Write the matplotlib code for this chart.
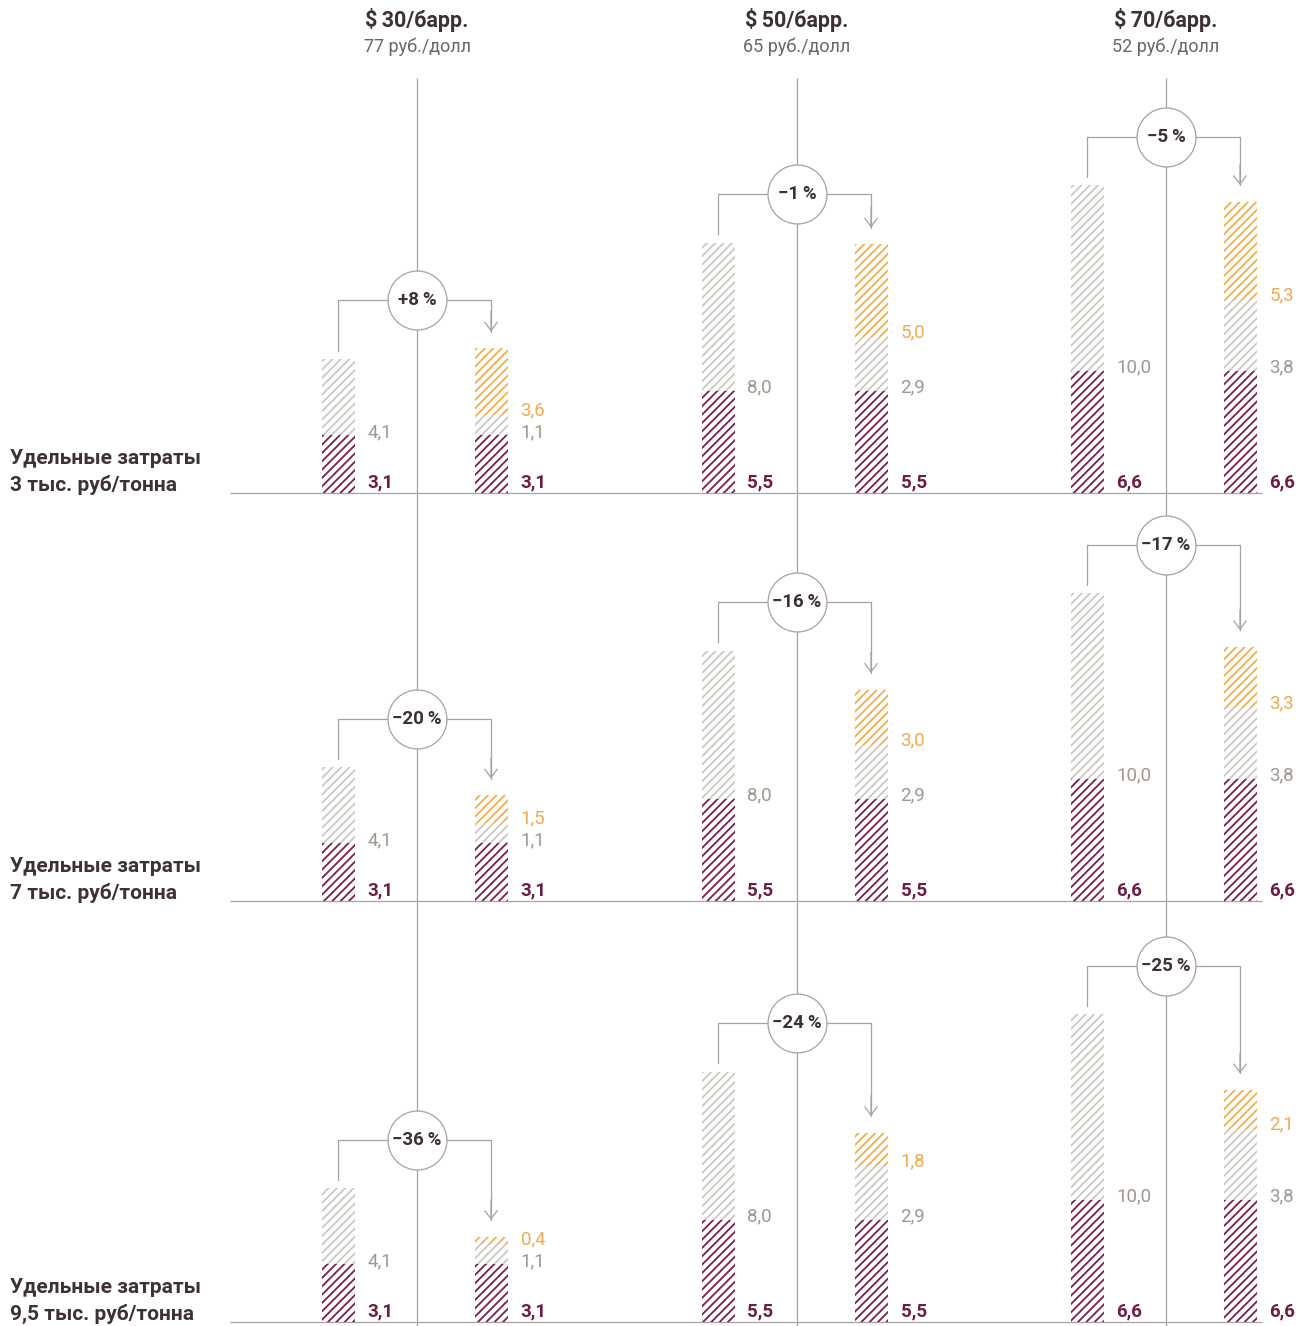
import matplotlib.pyplot as plt

# сценарии цены нефти и курса
prices = ['$\u200930/барр.', '$\u200950/барр.', '$\u200970/барр.']
rates = ['77 руб./долл', '65 руб./долл', '52 руб./долл']
row_titles = ['Удельные затраты', 'Удельные затраты', 'Удельные затраты']
row_costs = ['3 тыс. руб/тонна', '7 тыс. руб/тонна', '9,5 тыс. руб/тонна']

# нижний сегмент (одинаков для обоих столбиков и всех строк)
base = [3.1, 5.5, 6.6]
# серый сегмент: левый и правый столбики
left_grey = [4.1, 8.0, 10.0]
right_grey = [1.1, 2.9, 3.8]
# оранжевый сегмент правого столбика по строкам
orange = [[3.6, 5.0, 5.3],
          [1.5, 3.0, 3.3],
          [0.4, 1.8, 2.1]]
# изменение, %
changes = [[8, -1, -5],
           [-20, -16, -17],
           [-36, -24, -25]]

PURPLE = '#7a1f4d'
PURPLE_TXT = '#6d1d45'
GREY = '#cdc8c3'
GREY_TXT = '#a0978f'
ORANGE = '#efb04e'
ORANGE_TXT = '#eeab4f'
LINE = '#a9a1a1'
DARK = '#3d3131'
SUB = '#6e6464'

plt.rcParams['font.family'] = ['Roboto', 'DejaVu Sans']
plt.rcParams['hatch.linewidth'] = 1.3

W, H = 1309, 1326
U = 18.55  # пикселей на единицу


def ypx(p):
    # строка пикселя -> единицы оси y (только для раскладки)
    return (1322 - p) / U


col_x = [417, 797, 1166]
off_l, off_r = -79, 74
bar_w = 33
row_y = [ypx(493), ypx(901), ypx(1322)]
HATCH = '////'
VAL_FS = 13.5

fig = plt.figure(figsize=(W / 100, H / 100), dpi=100)
ax = fig.add_axes([0, 0, 1, 1])
ax.set_xlim(0, W)
ax.set_ylim(ypx(H), ypx(0))
ax.axis('off')

# центральные вертикали и базовые линии
ax.vlines(col_x, ypx(H), ypx(78), color=LINE, lw=0.9, zorder=1)
ax.hlines(row_y, 230, 1262, color=LINE, lw=0.9, zorder=1)

for j, cx in enumerate(col_x):
    ax.text(cx, ypx(20), prices[j], ha='center', va='center', fontsize=15.5,
            fontweight='bold', color=DARK)
    ax.text(cx, ypx(47), rates[j], ha='center', va='center', fontsize=13,
            color=SUB)

for i, y0 in enumerate(row_y):
    ax.text(10, y0 + 27 / U + 0.1, row_titles[i], ha='left', va='baseline',
            fontsize=15, fontweight='bold', color=DARK)
    ax.text(10, y0 + 0.1, row_costs[i], ha='left', va='baseline',
            fontsize=15, fontweight='bold', color=DARK)

    for j, cx in enumerate(col_x):
        xl, xr = cx + off_l, cx + off_r
        b, gl, gr, o = base[j], left_grey[j], right_grey[j], orange[i][j]

        # левый столбик
        ax.bar(xl, b, bottom=y0, width=bar_w, facecolor='none', edgecolor=PURPLE,
               lw=0, hatch=HATCH, zorder=2)
        ax.bar(xl, gl, bottom=y0 + b, width=bar_w, facecolor='none', edgecolor=GREY,
               lw=0, hatch=HATCH, zorder=2)
        # правый столбик
        ax.bar(xr, b, bottom=y0, width=bar_w, facecolor='none', edgecolor=PURPLE,
               lw=0, hatch=HATCH, zorder=2)
        ax.bar(xr, gr, bottom=y0 + b, width=bar_w, facecolor='none', edgecolor=GREY,
               lw=0, hatch=HATCH, zorder=2)
        ax.bar(xr, o, bottom=y0 + b + gr, width=bar_w, facecolor='none',
               edgecolor=ORANGE, lw=0, hatch=HATCH, zorder=2)

        # подписи
        tx = bar_w / 2 + 13
        fmt = lambda v: f'{v:.1f}'.replace('.', ',')
        for x in (xl, xr):
            ax.text(x + tx, y0 + 0.32, fmt(b), ha='left', va='baseline',
                    fontsize=VAL_FS, fontweight='bold', color=PURPLE_TXT)
        ax.text(xl + tx, y0 + b - 0.1, fmt(gl), ha='left', va='baseline',
                fontsize=VAL_FS, color=GREY_TXT)
        ax.text(xr + tx, y0 + b - 0.1, fmt(gr), ha='left', va='baseline',
                fontsize=VAL_FS, color=GREY_TXT)
        oy = max(y0 + b + gr, y0 + b - 0.1 + 1.2)
        ax.text(xr + tx, oy, fmt(o), ha='left', va='baseline',
                fontsize=VAL_FS, color=ORANGE_TXT)

        # скобка со стрелкой
        top_l = y0 + b + gl
        top_r = y0 + b + gr + o
        cy = max(top_l, top_r) + 2.6
        ax.plot([xl, xl, xr, xr], [top_l + 0.45, cy, cy, top_r + 0.9],
                color=LINE, lw=0.9, zorder=1)
        ax.annotate('', xy=(xr, top_r + 0.9), xytext=(xr, top_r + 2.0),
                    arrowprops=dict(arrowstyle='->,head_length=0.6,head_width=0.45',
                                    color=LINE, lw=0.9, shrinkA=0, shrinkB=0))
        ax.scatter([cx], [cy], s=1800, facecolor='white', edgecolor=LINE,
                   lw=0.9, zorder=4)
        c = changes[i][j]
        sign = '+' if c > 0 else '\u2212'
        ax.text(cx, cy, f'{sign}{abs(c)}\u2009%', ha='center', va='center',
                fontsize=13.5, fontweight='bold', color=DARK, zorder=5)

fig.savefig('out.png', dpi=100)
